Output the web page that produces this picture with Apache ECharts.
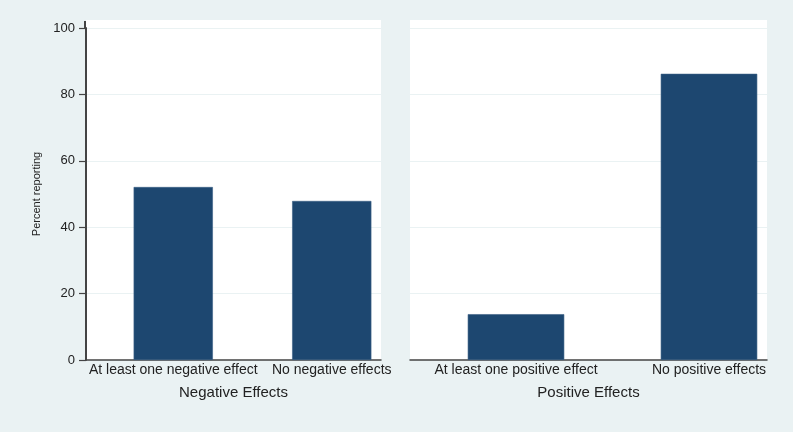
<!DOCTYPE html>
<html><head><meta charset="utf-8">
<script src="https://cdn.jsdelivr.net/npm/echarts@6/dist/echarts.min.js"></script>
<style>html,body{margin:0;padding:0;background:#fff;overflow:hidden;width:800px;height:436px}#c{width:812px;height:436px}</style>
</head><body><div id="c"></div><script>
const negCategories = ['At least one negative effect', 'No negative effects'];
const negValues = [52.1, 47.9];
const posCategories = ['At least one positive effect', 'No positive effects'];
const posValues = [13.8, 86.2];
const yMin = 0, yMax = 100, yStep = 20;
const panelTitles = ['Negative Effects', 'Positive Effects'];
const yTitle = 'Percent reporting';

const FONT = 'Liberation Sans, Arial, Helvetica, sans-serif';
const BAR = '#1d4770';
const AX = '#444';
const BG = '#eaf2f3';

const chart = echarts.init(document.getElementById('c'), null, {renderer: 'canvas'});
const frameX = (title) => ({
  type: 'category', data: ['', ''],
  axisLine: {show: true, lineStyle: {color: AX, width: 1.5}},
  axisTick: {show: false}, axisLabel: {show: false},
  name: title, nameLocation: 'middle', nameGap: 25,
  nameTextStyle: {fontFamily: FONT, fontSize: 15, color: '#222'}
});
const dataX = (cats) => ({
  type: 'category', data: cats,
  axisLine: {show: false}, axisTick: {show: false},
  axisLabel: {interval: 0, fontFamily: FONT, fontSize: 14, color: '#222', margin: 3}
});
const hiddenY = {type: 'value', min: yMin, max: yMax, show: false};
chart.setOption({
  animation: false,
  backgroundColor: 'transparent',
  graphic: [
    {type: 'rect', z: -100, shape: {x: 0, y: 0, width: 793, height: 432}, style: {fill: BG}},
    {type: 'rect', z: -99, shape: {x: 86, y: 20, width: 295, height: 340}, style: {fill: '#fff'}},
    {type: 'rect', z: -99, shape: {x: 410, y: 20, width: 357, height: 340}, style: {fill: '#fff'}},
    {type: 'line', z: 10, shape: {x1: 85, y1: 21, x2: 85, y2: 29}, style: {stroke: AX, lineWidth: 2}}
  ],
  grid: [
    {left: 86, width: 295, top: 28, bottom: 76},
    {left: 94, width: 317, top: 28, bottom: 76},
    {left: 410, width: 357, top: 28, bottom: 76},
    {left: 419.5, width: 386, top: 28, bottom: 76}
  ],
  xAxis: [
    Object.assign(frameX(panelTitles[0]), {gridIndex: 0}),
    Object.assign(dataX(negCategories), {gridIndex: 1}),
    Object.assign(frameX(panelTitles[1]), {gridIndex: 2}),
    Object.assign(dataX(posCategories), {gridIndex: 3})
  ],
  yAxis: [
    {gridIndex: 0, type: 'value', min: yMin, max: yMax, interval: yStep,
     axisLine: {show: true, lineStyle: {color: AX, width: 2}},
     axisTick: {show: true, length: 7, lineStyle: {color: AX, width: 1.2}},
     axisLabel: {fontFamily: FONT, fontSize: 13, color: '#222', margin: 11},
     splitLine: {show: true, lineStyle: {color: BG, width: 1}},
     name: yTitle, nameLocation: 'middle', nameGap: 44,
     nameTextStyle: {fontFamily: FONT, fontSize: 11, color: '#222'}},
    Object.assign({gridIndex: 1}, hiddenY),
    {gridIndex: 2, type: 'value', min: yMin, max: yMax, interval: yStep,
     axisLine: {show: false}, axisTick: {show: false}, axisLabel: {show: false},
     splitLine: {show: true, lineStyle: {color: BG, width: 1}}},
    Object.assign({gridIndex: 3}, hiddenY)
  ],
  series: [
    {type: 'bar', xAxisIndex: 1, yAxisIndex: 1, data: negValues, barWidth: '50%',
     itemStyle: {color: BAR, borderColor: '#3b5f85', borderWidth: 0.6}},
    {type: 'bar', xAxisIndex: 3, yAxisIndex: 3, data: posValues, barWidth: '50%',
     itemStyle: {color: BAR, borderColor: '#3b5f85', borderWidth: 0.6}}
  ]
});
</script></body></html>
